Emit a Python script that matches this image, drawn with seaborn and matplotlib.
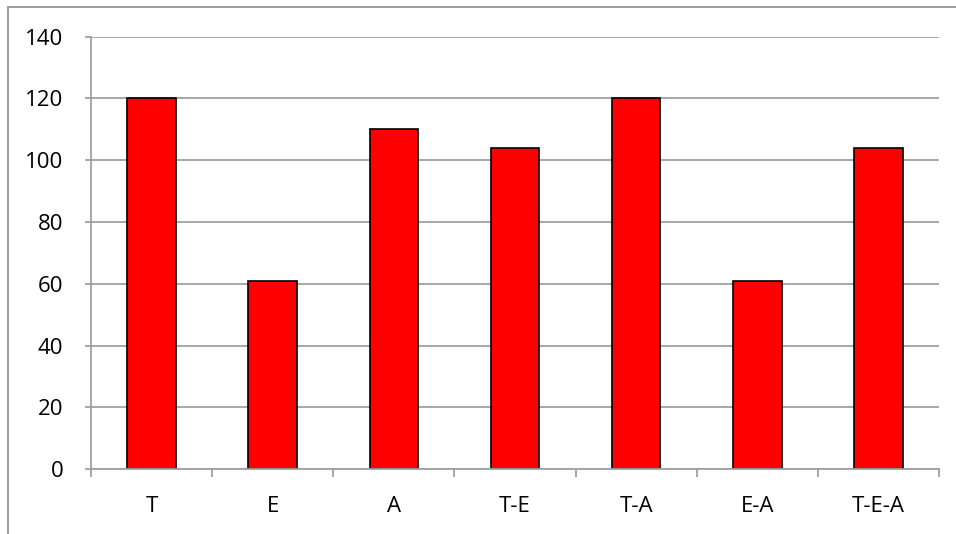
import numpy as np
import pandas as pd
import seaborn as sns
import matplotlib.pyplot as plt
from matplotlib.lines import Line2D

categories = ["T", "E", "A", "T-E", "T-A", "E-A", "T-E-A"]
values = [120, 61, 110, 104, 120, 61, 104]
y_ticks = [0, 20, 40, 60, 80, 100, 120, 140]

df = pd.DataFrame({"cat": categories, "val": values})

sns.set_style("white")
plt.rcParams["font.family"] = ["Open Sans", "DejaVu Sans"]

fig = plt.figure(figsize=(9.56, 5.34), dpi=100)
ax = fig.add_axes([0.0952, 0.1212, 0.9822 - 0.0952, 0.9313 - 0.1212])

sns.barplot(data=df, x="cat", y="val", color="#FF0000", edgecolor="black",
            linewidth=1.2, width=0.4, saturation=1, ax=ax)

ax.set_xlim(-0.5, len(categories) - 0.5)
ax.set_ylim(0, 140)
ax.set_yticks(y_ticks)
ax.set_xlabel("")
ax.set_ylabel("")

grid_c = "#A0A0A0"
ax.set_axisbelow(True)
ax.yaxis.grid(True, color=grid_c, linewidth=1.3)
ax.xaxis.grid(False)

for s in ["top", "right"]:
    ax.spines[s].set_visible(False)
for s in ["left", "bottom"]:
    ax.spines[s].set_color(grid_c)
    ax.spines[s].set_linewidth(1.3)

ax.tick_params(axis="y", which="major", length=4, width=1.3, color=grid_c,
               pad=16, labelsize=16, labelcolor="black", left=True)
ax.tick_params(axis="x", which="major", length=0, pad=19, labelsize=16,
               labelcolor="black")
ax.set_xticks(np.arange(-0.5, len(categories)), minor=True)
ax.tick_params(axis="x", which="minor", length=6, width=1.3, color=grid_c,
               bottom=True)

# outer chart frame (top and left edges)
fig.add_artist(Line2D([8 / 956, 1], [1 - 7 / 534, 1 - 7 / 534],
                      transform=fig.transFigure, color="#8C8C8C", linewidth=1.2))
fig.add_artist(Line2D([8 / 956, 8 / 956], [0, 1 - 7 / 534],
                      transform=fig.transFigure, color="#8C8C8C", linewidth=1.2))

fig.savefig("out.png", dpi=100)
